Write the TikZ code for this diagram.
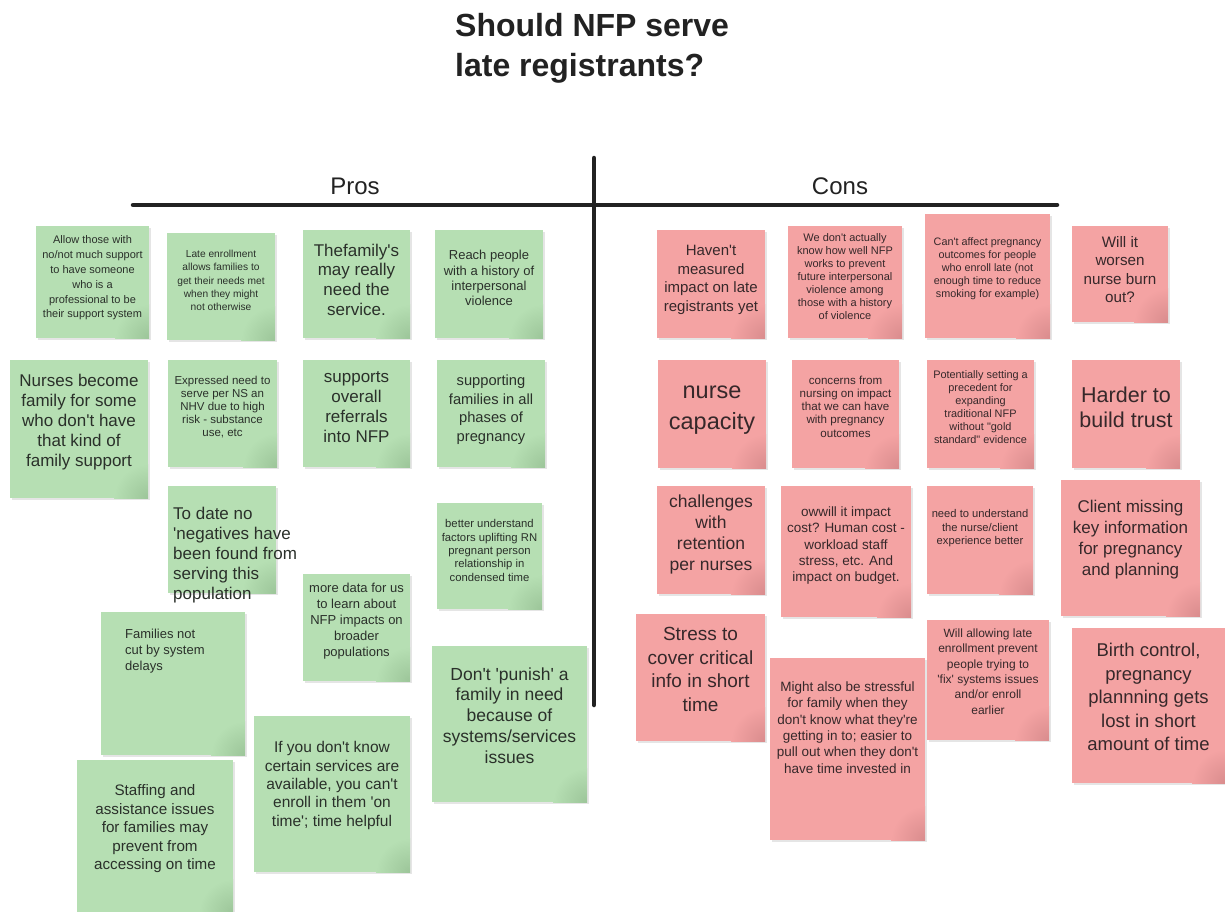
\documentclass[tikz,border=0pt]{standalone}
\usepackage{fontspec}
\setmainfont{Liberation Sans}[Ligatures=TeXOff]

\definecolor{profill}{HTML}{B6DFB3}
\definecolor{procorner}{HTML}{9CC599}
\definecolor{confill}{HTML}{F4A3A3}
\definecolor{concorner}{HTML}{D98C8D}
\definecolor{protext}{HTML}{2A302A}
\definecolor{context}{HTML}{36282A}
\definecolor{rulecol}{HTML}{222222}

\tikzset{
  pronote/.style={fill=profill, inner sep=0pt, outer sep=0pt},
  connote/.style={fill=confill, inner sep=0pt, outer sep=0pt},
  ptext/.style={text=protext, align=center, inner sep=0pt},
  ctext/.style={text=context, align=center, inner sep=0pt},
  fs/.style 2 args={font=\fontsize{#1}{#2}\selectfont},
  divider/.style={draw=rulecol, line width=4.5pt, line cap=round},
  heading/.style={text=rulecol, inner sep=0pt, font=\fontsize{24}{28}\selectfont},
}

% sticky note: name, kind (pro/con), x1, y1, x2, y2
\newcommand\sticky[6]{%
  \fill[black, opacity=0.10] ({#3+1.5},{#4+1.5}) rectangle ({#5+1.5},{#6+1.5});
  \node[#2note, anchor=north west, minimum width={(#5-#3)*1pt},
        minimum height={(#6-#4)*1pt}] (#1) at (#3,#4) {};
  \begin{scope}
    \clip (#1.south west) rectangle (#1.north east);
    \shade[inner color=#2corner, outer color=#2fill] (#1.south east) circle[radius=34pt];
  \end{scope}}

\begin{document}
\begin{tikzpicture}[x=1pt,y=-1pt]
\useasboundingbox[fill=white] (0,0) rectangle (1225,911);

% title and column headings
\node[font=\fontsize{32}{40}\selectfont\bfseries, align=left, anchor=north west,
      inner sep=0pt, text=rulecol] (title) at (455,13) {Should NFP serve\\late registrants?};
\node[heading] (pros) at (355,186) {Pros};
\node[heading] (cons) at (840,186) {Cons};

% T-chart dividers
\coordinate (hl) at (133,205);
\coordinate (hr) at (1057,205);
\coordinate (vt) at (594,158);
\coordinate (vb) at (594,705);
\draw[divider] (hl) -- (hr);
\draw[divider] (vt) -- (vb);

% ---------- Pros ----------
\sticky{p1}{pro}{36}{226}{149}{338}
\node[ptext, fs={11}{14.8}] (p1t) at (92.5,278) {Allow those with\\no/not much support\\to have someone\\who is a\\professional to be\\their support system};

\sticky{p2}{pro}{167}{233}{275}{340}
\node[ptext, fs={10.2}{13.3}] (p2t) at (221,280.5) {Late enrollment\\allows families to\\get their needs met\\when they might\\not otherwise};

\sticky{p3}{pro}{303}{230}{410}{338}
\node[ptext, fs={17}{19.7}] (p3t) at (356.5,279.5) {Thefamily's\\may really\\need the\\service.};

\sticky{p4}{pro}{435}{230}{543}{338}
\node[ptext, fs={13}{15.3}] (p4t) at (489,278) {Reach people\\with a history of\\interpersonal\\violence};

\sticky{p5}{pro}{10}{360}{148}{498}
\node[ptext, fs={17}{20}] (p5t) at (79,422) {Nurses become\\family for some\\who don't have\\that kind of\\family support};

\sticky{p6}{pro}{168}{360}{277}{467}
\node[ptext, fs={11.5}{13}] (p6t) at (222.5,407.5) {Expressed need to\\serve per NS an\\NHV due to high\\risk - substance\\use, etc};

\sticky{p7}{pro}{303}{360}{410}{467}
\node[ptext, fs={17}{20}] (p7t) at (356.5,407) {supports\\overall\\referrals\\into NFP};

\sticky{p8}{pro}{437}{360}{545}{467}
\node[ptext, fs={14.7}{18.5}] (p8t) at (491,409.5) {supporting\\families in all\\phases of\\pregnancy};

\sticky{p9}{pro}{168}{486}{276}{593}
\node[ptext, align=left, anchor=west, fs={17}{20}] (p9t) at (173,555) {To date no\\'negatives have\\been found from\\serving this\\population};

\sticky{p10}{pro}{437}{503}{542}{609}
\node[ptext, fs={11.3}{13.3}] (p10t) at (489.5,550.5) {better understand\\factors uplifting RN\\pregnant person\\relationship in\\condensed time};

\sticky{p11}{pro}{303}{574}{410}{681}
\node[ptext, fs={13}{16}] (p11t) at (356.5,621) {more data for us\\to learn about\\NFP impacts on\\broader\\populations};

\sticky{p12}{pro}{101}{612}{245}{755}
\node[ptext, align=left, anchor=west, fs={13}{16}] (p12t) at (125,651) {Families not\\cut by system\\delays};

\sticky{p13}{pro}{432}{646}{587}{802}
\node[ptext, fs={17.5}{20.8}] (p13t) at (509.5,715.5) {Don't 'punish' a\\family in need\\because of\\systems/services\\issues};

\sticky{p14}{pro}{254}{716}{410}{872}
\node[ptext, fs={15.5}{18.3}] (p14t) at (332,785.5) {If you don't know\\certain services are\\available, you can't\\enroll in them 'on\\time'; time helpful};

\sticky{p15}{pro}{77}{760}{233}{913}
\node[ptext, fs={15.2}{18.5}] (p15t) at (155,829) {Staffing and\\assistance issues\\for families may\\prevent from\\accessing on time};

% ---------- Cons ----------
\sticky{c1}{con}{657}{230}{765}{338}
\node[ctext, fs={15}{18.7}] (c1t) at (711,280) {Haven't\\measured\\impact on late\\registrants yet};

\sticky{c2}{con}{788}{226}{902}{338}
\node[ctext, fs={11}{13.1}] (c2t) at (845,276.5) {We don't actually\\know how well NFP\\works to prevent\\future interpersonal\\violence among\\those with a history\\of violence};

\sticky{c3}{con}{925}{214}{1050}{338}
\node[ctext, fs={10.8}{13}] (c3t) at (987.5,269) {Can't affect pregnancy\\outcomes for people\\who enroll late (not\\enough time to reduce\\smoking for example)};

\sticky{c4}{con}{1072}{226}{1168}{322}
\node[ctext, fs={15.2}{18.3}] (c4t) at (1120,269.5) {Will it\\worsen\\nurse burn\\out?};

\sticky{c5}{con}{658}{360}{766}{468}
\node[ctext, fs={23.5}{31}] (c5t) at (712,410.5) {nurse\\capacity};

\sticky{c6}{con}{792}{360}{899}{468}
\node[ctext, fs={11.6}{13.3}] (c6t) at (845.5,406.5) {concerns from\\nursing on impact\\that we can have\\with pregnancy\\outcomes};

\sticky{c7}{con}{927}{360}{1034}{468}
\node[ctext, fs={10.9}{13}] (c7t) at (980.5,407.5) {Potentially setting a\\precedent for\\expanding\\traditional NFP\\without "gold\\standard" evidence};

\sticky{c8}{con}{1072}{360}{1180}{468}
\node[ctext, fs={21.5}{25}] (c8t) at (1126,407.5) {Harder to\\build trust};

\sticky{c9}{con}{657}{486}{765}{594}
\node[ctext, fs={17.5}{21}] (c9t) at (711,534) {challenges\\with\\retention\\per nurses};

\sticky{c10}{con}{781}{486}{911}{617}
\node[ctext, fs={13.5}{16.2}] (c10t) at (846,545.5) {owwill it impact\\cost? Human cost -\\workload staff\\stress, etc. And\\impact on budget.};

\sticky{c11}{con}{927}{486}{1033}{594}
\node[ctext, fs={11.2}{13.5}] (c11t) at (980,528.5) {need to understand\\the nurse/client\\experience better};

\sticky{c12}{con}{1061}{480}{1200}{616}
\node[ctext, fs={17}{21}] (c12t) at (1130.5,539.5) {Client missing\\key information\\for pregnancy\\and planning};

\sticky{c13}{con}{636}{614}{765}{741}
\node[ctext, fs={19}{23.7}] (c13t) at (700.5,669.5) {Stress to\\cover critical\\info in short\\time};

\sticky{c14}{con}{770}{658}{925}{840}
\node[ctext, fs={13.5}{16.3}] (c14t) at (847.5,727.5) {Might also be stressful\\for family when they\\don't know what they're\\getting in to; easier to\\pull out when they don't\\have time invested in};

\sticky{c15}{con}{927}{620}{1049}{740}
\node[ctext, fs={12}{15.4}] (c15t) at (988,671.5) {Will allowing late\\enrollment prevent\\people trying to\\'fix' systems issues\\and/or enroll\\earlier};

\sticky{c16}{con}{1072}{628}{1226}{783}
\node[ctext, fs={18.5}{23.5}] (c16t) at (1148.5,697) {Birth control,\\pregnancy\\plannning gets\\lost in short\\amount of time};

\end{tikzpicture}
\end{document}
